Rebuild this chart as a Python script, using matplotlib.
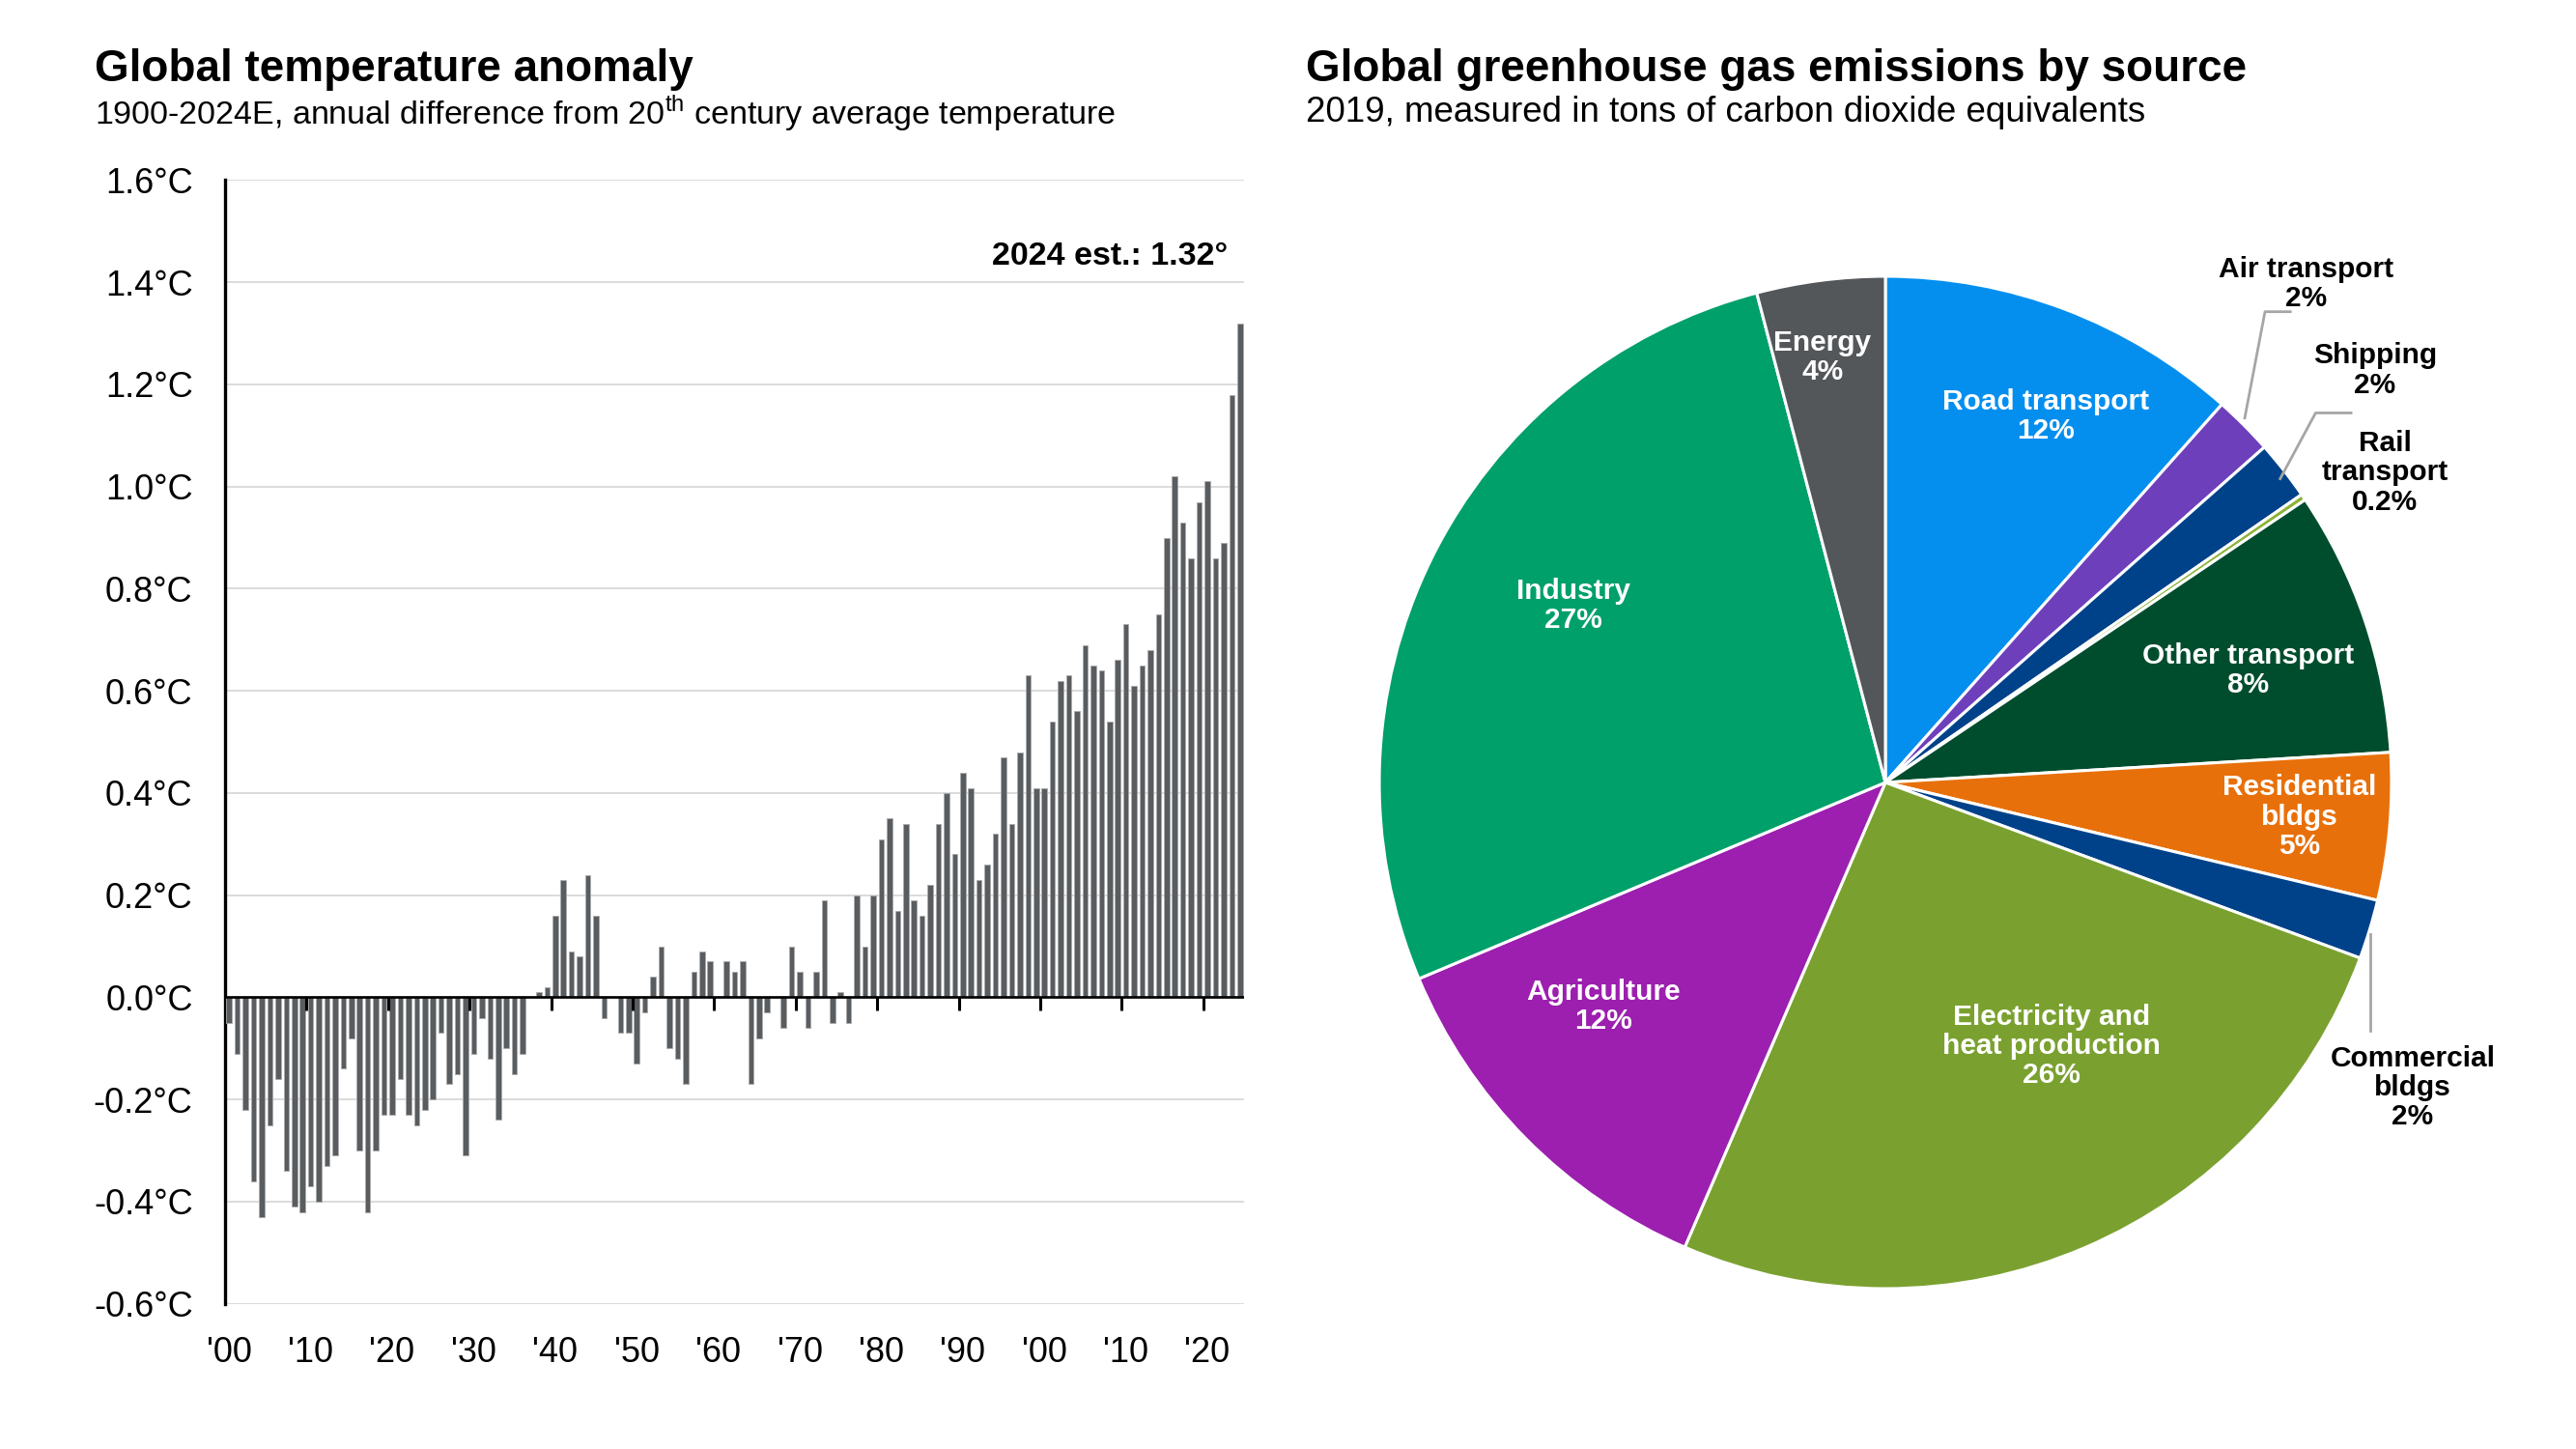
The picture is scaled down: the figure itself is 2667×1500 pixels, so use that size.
import matplotlib
matplotlib.use("Agg")
import matplotlib.pyplot as plt
import numpy as np

plt.rcParams['font.family'] = ['Liberation Sans', 'DejaVu Sans']
plt.rcParams['mathtext.fontset'] = 'custom'
plt.rcParams['mathtext.rm'] = 'Liberation Sans'

# ---------------- data ----------------
years = list(range(1900, 2025))
anomaly = [
    -0.05, -0.11, -0.22, -0.36, -0.43, -0.25, -0.16, -0.34, -0.41, -0.42,   # 1900s
    -0.37, -0.40, -0.33, -0.31, -0.14, -0.08, -0.30, -0.42, -0.30, -0.23,   # 1910s
    -0.23, -0.16, -0.23, -0.25, -0.22, -0.20, -0.07, -0.17, -0.15, -0.31,   # 1920s
    -0.11, -0.04, -0.12, -0.24, -0.10, -0.15, -0.11, 0.00, 0.01, 0.02,      # 1930s
    0.16, 0.23, 0.09, 0.08, 0.24, 0.16, -0.04, 0.00, -0.07, -0.07,          # 1940s
    -0.13, -0.03, 0.04, 0.10, -0.10, -0.12, -0.17, 0.05, 0.09, 0.07,        # 1950s
    0.00, 0.07, 0.05, 0.07, -0.17, -0.08, -0.03, 0.00, -0.06, 0.10,         # 1960s
    0.05, -0.06, 0.05, 0.19, -0.05, 0.01, -0.05, 0.20, 0.10, 0.20,          # 1970s
    0.31, 0.35, 0.17, 0.34, 0.19, 0.16, 0.22, 0.34, 0.40, 0.28,             # 1980s
    0.44, 0.41, 0.23, 0.26, 0.32, 0.47, 0.34, 0.48, 0.63, 0.41,             # 1990s
    0.41, 0.54, 0.62, 0.63, 0.56, 0.69, 0.65, 0.64, 0.54, 0.66,             # 2000s
    0.73, 0.61, 0.65, 0.68, 0.75, 0.90, 1.02, 0.93, 0.86, 0.97,             # 2010s
    1.01, 0.86, 0.89, 1.18, 1.32,                                           # 2020s
]
y_ticks = [-0.6, -0.4, -0.2, 0.0, 0.2, 0.4, 0.6, 0.8, 1.0, 1.2, 1.4, 1.6]
decade_years = [1900, 1910, 1920, 1930, 1940, 1950, 1960, 1970, 1980, 1990, 2000, 2010, 2020]
decade_labels = ["'00", "'10", "'20", "'30", "'40", "'50", "'60", "'70", "'80", "'90", "'00", "'10", "'20"]

sources = ["Road transport", "Air transport", "Shipping", "Rail\ntransport", "Other transport",
           "Residential\nbldgs", "Commercial\nbldgs", "Electricity and\nheat production",
           "Agriculture", "Industry", "Energy"]
shares = [11.6, 1.9, 1.9, 0.2, 8.5, 4.7, 1.9, 25.9, 12.2, 27.3, 4.1]
share_labels = ["12%", "2%", "2%", "0.2%", "8%", "5%", "2%", "26%", "12%", "27%", "4%"]

# ---------------- style / layout ----------------
pie_colors = ["#048FEF", "#6E3FBB", "#00428A", "#8DB33A", "#004D2E",
              "#E8700A", "#00428A", "#7AA12F", "#9C1FAF", "#00A06A", "#54575A"]
label_pos = [(0.316, 0.723), (0.831, 0.984), (0.967, 0.814), (0.987, 0.612),
             (0.717, 0.221), (0.818, -0.068), (1.042, -0.603), (0.329, -0.521),
             (-0.557, -0.443), (-0.616, 0.349), (-0.124, 0.840)]
label_inside = [True, False, False, False, True, True, False, True, True, True, True]

W, H = 2667, 1500
fig = plt.figure(figsize=(W / 100, H / 100), dpi=100)

# ---------------- bar chart ----------------
ax = fig.add_axes([233 / W, 0.1002, 1055 / W, 0.7755])
ax.bar(years, anomaly, width=0.66, color="#5A5D60", edgecolor="#A9ABAD", linewidth=0.6, zorder=3)
ax.set_xlim(1899.5, 2024.5)
ax.set_ylim(-0.6, 1.6)
ax.set_yticks(y_ticks)
ax.set_yticklabels([f"{v:.1f}°C" for v in y_ticks], fontsize=26)
ax.yaxis.grid(True, color="#D9D9D9", linewidth=1.3, zorder=0)
ax.tick_params(axis='y', length=0, pad=24)
ax.set_xticks(decade_years)
ax.set_xticklabels(decade_labels, fontsize=26)
ax.tick_params(axis='x', length=0, pad=24)
for s in ["top", "right", "bottom"]:
    ax.spines[s].set_visible(False)
ax.spines["left"].set_linewidth(2.4)
ax.spines["left"].set_color("black")
ax.axhline(0, color="black", linewidth=1.9, zorder=4)
ax.vlines([y - 0.5 for y in decade_years[1:]], -0.025, 0, color="black", linewidth=2.2, zorder=4)
ax.text(0.984, 0.932, "2024 est.: 1.32°", transform=ax.transAxes, ha="right", va="center",
        fontsize=24.5, fontweight="bold")

fig.text(98 / W, 1 - 72 / H, "Global temperature anomaly", fontsize=33, fontweight="bold",
         ha="left", va="center")
fig.text(98 / W, 1 - 117 / H, r"1900-2024E, annual difference from 20$^{\mathrm{th}}$ century average temperature",
         fontsize=24.5, ha="left", va="center")

# ---------------- pie chart ----------------
R = 524 * 1.4
cx, cy = 1952, 810
ax2 = fig.add_axes([(cx - R) / W, (H - cy - R) / H, 2 * R / W, 2 * R / H])
ax2.pie(shares, colors=pie_colors, startangle=90, counterclock=False, radius=1,
        wedgeprops=dict(edgecolor="white", linewidth=2.2))
ax2.set_xlim(-1.4, 1.4)
ax2.set_ylim(-1.4, 1.4)
ax2.set_aspect("equal")
ax2.axis("off")

for name, pct, (lx, ly), inside in zip(sources, share_labels, label_pos, label_inside):
    ax2.text(lx, ly, f"{name}\n{pct}", ha="center", va="center", fontsize=21.5,
             fontweight="bold", color="white" if inside else "black", linespacing=1.1)

lead = "#A6A6A6"
ax2.plot([0.71, 0.75, 0.80], [0.72, 0.93, 0.93], color=lead, linewidth=2)
ax2.plot([0.78, 0.85, 0.92], [0.60, 0.73, 0.73], color=lead, linewidth=2)
ax2.plot([0.958, 0.958], [-0.30, -0.49], color=lead, linewidth=2)

fig.text(1352 / W, 1 - 72 / H, "Global greenhouse gas emissions by source", fontsize=33,
         fontweight="bold", ha="left", va="center")
fig.text(1352 / W, 1 - 117 / H, "2019, measured in tons of carbon dioxide equivalents",
         fontsize=26.5, ha="left", va="center")

fig.savefig("out.png", dpi=100, facecolor="white")
